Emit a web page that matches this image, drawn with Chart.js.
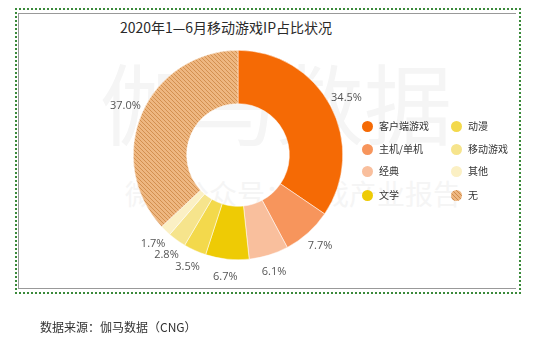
<!DOCTYPE html>
<html>
<head>
<meta charset="utf-8">
<script src="https://cdn.jsdelivr.net/npm/chart.js@4.4.0/dist/chart.umd.min.js"></script>
<style>
  html, body { margin: 0; padding: 0; background: #fff; }
  body { width: 550px; height: 339px; position: relative; overflow: hidden;
         font-family: "Noto Sans CJK SC", "Noto Sans", sans-serif; }
  .frame { position: absolute; left: 15px; top: 8px; width: 502px; height: 282px;
           border: 2px dotted #3a8a3a; }
  .inner { position: absolute; left: 18px; top: 13px; width: 497px; height: 274px;
           border-top: 1px solid #999; border-left: 1px solid #999; border-bottom: 1px solid #999; }
  .wm { position: absolute; color: #f5f5f5; white-space: nowrap; }
  .title { position: absolute; left: 0; width: 452px; top: 17px; text-align: center;
           font-size: 14px; color: #2a2a2a; }
  #pie { position: absolute; left: 0; top: 0; }
  .legend { position: absolute; left: 362px; top: 118px; width: 170px; font-size: 10px; color: #333; }
  .legend .item { position: absolute; height: 16px; line-height: 16px; white-space: nowrap; }
  .legend .dot { display: inline-block; width: 11px; height: 11px; border-radius: 50%;
                 vertical-align: middle; margin-right: 6px; position: relative; top: -1px; }
  .source { position: absolute; left: 40px; top: 318px; font-size: 12px; color: #333; }
</style>
</head>
<body>
<div class="wm" style="left:100px;top:45px;font-size:88px;line-height:110px;">伽马数据</div>
<div class="wm" style="left:125px;top:175px;font-size:28px;line-height:36px;">微信公众号：游戏产业报告</div>
<div class="frame"></div>
<div class="inner"></div>
<div class="title">2020年1—6月移动游戏IP占比状况</div>
<canvas id="pie" width="550" height="339"></canvas>
<div class="legend" id="legend"></div>
<div class="source">数据来源：伽马数据（CNG）</div>
<script>
  // data
  var categories = ["客户端游戏", "主机/单机", "经典", "文学", "动漫", "移动游戏", "其他", "无"];
  var shares = [34.5, 7.7, 6.1, 6.7, 3.5, 2.8, 1.7, 37.0];
  var shareLabels = ["34.5%", "7.7%", "6.1%", "6.7%", "3.5%", "2.8%", "1.7%", "37.0%"];
  var sliceColors = ["#f56a05", "#f7955c", "#f9bf9d", "#eecb05", "#f3d94c", "#f6e48c", "#fbf0c4", "#e6a56a"];
  // legend goes in two columns, listed column by column
  var legendOrder = [0, 1, 2, 3, 4, 5, 6, 7];

  /**
   * Builds the diagonal hatch used for the "无" slice.
   */
  function makeHatch() {
    var c = document.createElement("canvas");
    c.width = 4;
    c.height = 4;
    var g = c.getContext("2d");
    g.fillStyle = "#eeb781";
    g.fillRect(0, 0, 4, 4);
    g.strokeStyle = "#cf8b4b";
    g.lineWidth = 0.9;
    g.beginPath();
    g.moveTo(-1, -1); g.lineTo(5, 5);
    g.moveTo(-1, 3); g.lineTo(1, 5);
    g.moveTo(3, -1); g.lineTo(5, 1);
    g.stroke();
    return g.createPattern(c, "repeat");
  }

  var fills = sliceColors.slice();
  fills[7] = makeHatch();

  // percentage labels outside the ring
  var outerLabels = {
    id: "outerLabels",
    afterDatasetsDraw: function (chart) {
      var ctx = chart.ctx;
      var meta = chart.getDatasetMeta(0);
      ctx.save();
      ctx.font = "11px 'Open Sans', sans-serif";
      ctx.fillStyle = "#555";
      ctx.textAlign = "center";
      ctx.textBaseline = "middle";
      meta.data.forEach(function (arc, i) {
        var p = arc.getProps(["x", "y", "startAngle", "endAngle", "outerRadius"], true);
        var mid = (p.startAngle + p.endAngle) / 2;
        var r = p.outerRadius + 18;
        ctx.fillText(shareLabels[i], p.x + Math.cos(mid) * r, p.y + Math.sin(mid) * r);
      });
      ctx.restore();
    }
  };

  new Chart(document.getElementById("pie"), {
    type: "doughnut",
    data: {
      labels: categories,
      datasets: [{
        data: shares,
        backgroundColor: fills,
        borderColor: "#fff",
        borderWidth: 0.5
      }]
    },
    options: {
      responsive: false,
      animation: false,
      cutout: "49%",
      layout: { padding: { left: 133, right: 207, top: 50, bottom: 79 } },
      plugins: { legend: { display: false }, tooltip: { enabled: false } }
    },
    plugins: [outerLabels]
  });

  // html legend, two columns of four
  var legendBox = document.getElementById("legend");
  var rowY = [0, 23, 45, 69];
  var colX = [0, 89];
  legendOrder.forEach(function (idx, n) {
    var item = document.createElement("div");
    item.className = "item";
    item.style.left = colX[Math.floor(n / 4)] + "px";
    item.style.top = rowY[n % 4] + "px";
    var dot = document.createElement("span");
    dot.className = "dot";
    if (idx === 7) {
      dot.style.background = "repeating-linear-gradient(45deg, #eeb781 0 2px, #cf8b4b 2px 3px)";
    } else {
      dot.style.background = sliceColors[idx];
    }
    item.appendChild(dot);
    item.appendChild(document.createTextNode(categories[idx]));
    legendBox.appendChild(item);
  });
</script>
</body>
</html>
